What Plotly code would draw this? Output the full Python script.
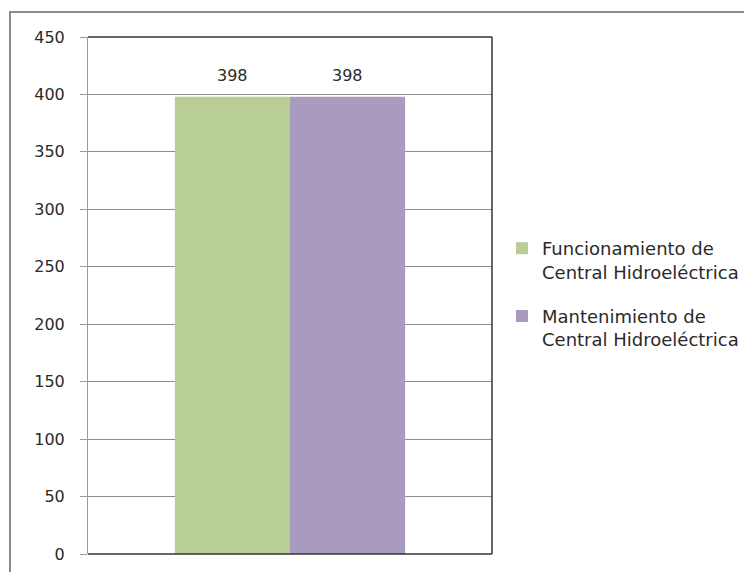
import plotly.graph_objects as go

categories = [""]
series_names = ["Funcionamiento de<br>Central Hidroeléctrica",
                "Mantenimiento de<br>Central Hidroeléctrica"]
series_values = [[398], [398]]
series_colors = ["#B9CD96", "#A99BBF"]
y_ticks = list(range(0, 451, 50))

FONT = "DejaVu Sans"
TEXT = "#2A2A2A"
BARGAP = 0.43

fig = go.Figure()
for i, (name, vals, col) in enumerate(zip(series_names, series_values, series_colors)):
    fig.add_trace(go.Bar(
        x=[0], y=vals, name=name, marker=dict(color=col, line=dict(width=0)),
        legendgroup=f"g{i}", hoverinfo="skip",
    ))

# value labels centred over each bar of the group
n = len(series_values)
bar_w = (1 - BARGAP) / n
for i, vals in enumerate(series_values):
    xc = -(1 - BARGAP) / 2 + bar_w * (i + 0.5)
    fig.add_annotation(x=xc, y=vals[0], xref="x", yref="y", text=str(vals[0]),
                       showarrow=False, yshift=21,
                       font=dict(family=FONT, size=16, color=TEXT))

fig.update_layout(
    width=744, height=572,
    margin=dict(l=88, r=252, t=37, b=18, autoexpand=False),
    paper_bgcolor="white", plot_bgcolor="white",
    barmode="group", bargap=BARGAP, bargroupgap=0,
    showlegend=True,
    legend=dict(x=(502 - 88) / 404, y=(554 - 230) / 517, xanchor="left", yanchor="top",
                valign="top", tracegroupgap=18, itemsizing="constant",
                font=dict(family=FONT, size=18, color=TEXT),
                bgcolor="rgba(0,0,0,0)"),
    font=dict(family=FONT, size=16, color=TEXT),
    xaxis=dict(range=[-0.5, 0.5], showticklabels=False, showgrid=False,
               zeroline=False, showline=False, ticks="", fixedrange=True),
    yaxis=dict(range=[0, 450], tickvals=y_ticks, showgrid=True,
               gridcolor="#8C8C8C", gridwidth=1, zeroline=False,
               showline=True, linecolor="#9A9A9A", linewidth=1,
               ticks="outside", ticklen=7, tickcolor="#9A9A9A",
               tickfont=dict(family=FONT, size=16, color=TEXT),
               ticklabelstandoff=12),
    shapes=[
        # outer chart frame (extends past the page on right and bottom)
        dict(type="rect", xref="paper", yref="paper",
             x0=(10 - 88) / 404, x1=(760 - 88) / 404,
             y0=(554 - 590) / 517, y1=(554 - 12) / 517,
             line=dict(color="#8A8A8A", width=2), layer="above"),
        # plot area border: top, right, bottom
        dict(type="line", xref="paper", yref="paper", x0=0, x1=1, y0=1, y1=1,
             line=dict(color="#333333", width=1.5)),
        dict(type="line", xref="paper", yref="paper", x0=1, x1=1, y0=0, y1=1,
             line=dict(color="#333333", width=1.5)),
        dict(type="line", xref="paper", yref="paper", x0=0, x1=1, y0=0, y1=0,
             line=dict(color="#333333", width=1.5)),
    ],
)

fig.write_html("out.html")
